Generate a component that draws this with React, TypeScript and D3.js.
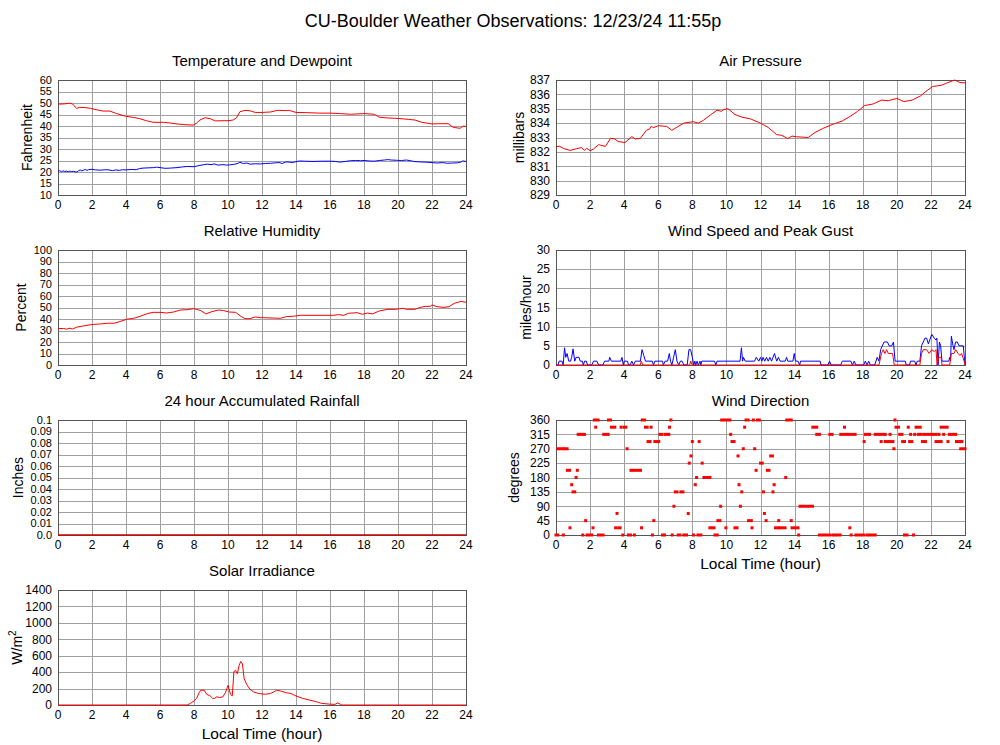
import React from "react";
import * as d3 from "d3";

const hourTicks = [0, 2, 4, 6, 8, 10, 12, 14, 16, 18, 20, 22, 24];

const tempTicks = [10, 15, 20, 25, 30, 35, 40, 45, 50, 55, 60];
const pressTicks = [829, 830, 831, 832, 833, 834, 835, 836, 837];
const rhTicks = [0, 10, 20, 30, 40, 50, 60, 70, 80, 90, 100];
const windTicks = [0, 5, 10, 15, 20, 25, 30];
const rainTicks = [0, 0.01, 0.02, 0.03, 0.04, 0.05, 0.06, 0.07, 0.08, 0.09, 0.1];
const rainTickLabels = ["0.0", "0.01", "0.02", "0.03", "0.04", "0.05", "0.06", "0.07", "0.08", "0.09", "0.1"];
const dirTicks = [0, 45, 90, 135, 180, 225, 270, 315, 360];
const solarTicks = [0, 200, 400, 600, 800, 1000, 1200, 1400];

type P = [number, number];

const temperature: P[] = [
  [0, 49.5], [0.35, 49.6], [0.7, 49.9], [0.85, 49.6], [1.1, 47.6], [1.25, 48.1], [1.6, 48.0], [1.9, 47.7],
  [2.3, 47.0], [2.65, 46.5], [3.05, 46.5], [3.45, 45.4], [3.95, 44.3], [4.45, 43.7], [4.8, 43.2],
  [5.2, 42.3], [5.6, 41.6], [6.2, 41.6], [6.6, 41.3], [7.0, 40.9], [7.4, 40.6], [7.95, 40.4],
  [8.15, 41.2], [8.35, 42.6], [8.65, 43.6], [8.95, 43.2], [9.25, 42.2], [9.6, 42.3], [10.0, 42.3],
  [10.3, 42.6], [10.5, 43.6], [10.7, 46.2], [11.0, 46.8], [11.3, 46.6], [11.6, 45.9], [12.0, 45.9],
  [12.5, 46.1], [12.9, 46.8], [13.45, 46.7], [13.6, 46.8], [14.0, 45.9], [14.6, 45.8], [15.4, 45.6],
  [16.0, 45.6], [16.6, 45.4], [17.2, 45.1], [18.0, 45.4], [18.6, 45.1], [18.9, 43.8], [19.4, 43.5],
  [20.0, 43.3], [20.6, 42.9], [21.0, 42.6], [21.4, 41.6], [22.0, 40.9], [22.4, 41.0], [22.95, 41.0],
  [23.25, 39.4], [23.65, 39.0], [23.85, 40.0], [24, 39.8],
];

const dewpoint: P[] = [
  [0, 20.3], [0.1, 20.6], [0.2, 20.1], [0.3, 20.5], [0.4, 20.2], [0.5, 20.4], [0.6, 20.1], [0.7, 20.4],
  [0.8, 20.2], [0.9, 20.3], [1.0, 20.1], [1.1, 20.0], [1.2, 20.5], [1.3, 20.9], [1.4, 20.5], [1.5, 20.8],
  [1.6, 21.1], [1.7, 20.7], [1.8, 21.0], [2.0, 21.2], [2.2, 20.9], [2.5, 20.8], [2.8, 21.0], [3.0, 20.9],
  [3.2, 20.6], [3.4, 20.9], [3.6, 20.7], [3.8, 21.0], [4.0, 20.9], [4.3, 21.1], [4.6, 21.0], [4.8, 21.5],
  [5.0, 21.7], [5.3, 21.8], [5.6, 21.9], [5.8, 22.1], [6.0, 21.9], [6.3, 21.6], [6.6, 21.7], [7.0, 21.9],
  [7.3, 22.2], [7.6, 22.4], [8.0, 22.3], [8.3, 22.8], [8.6, 23.2], [8.8, 23.4], [9.0, 23.2], [9.2, 23.5],
  [9.4, 23.0], [9.7, 23.2], [9.9, 23.0], [10.1, 23.1], [10.4, 23.4], [10.6, 23.8], [10.7, 24.2], [10.9, 23.7],
  [11.1, 23.9], [11.3, 23.4], [11.6, 23.6], [11.9, 23.5], [12.2, 23.7], [12.5, 23.8], [12.8, 24.0],
  [13.0, 24.1], [13.2, 23.7], [13.4, 24.4], [13.6, 24.3], [13.8, 24.1], [14.0, 24.5], [14.2, 24.8],
  [14.5, 24.7], [15.0, 24.6], [15.5, 24.7], [16.0, 24.7], [16.3, 24.6], [16.6, 24.3], [16.9, 24.6],
  [17.2, 24.9], [17.5, 25.0], [17.8, 24.9], [18.0, 25.0], [18.3, 24.8], [18.6, 24.7], [18.9, 25.0],
  [19.2, 25.2], [19.4, 25.4], [19.6, 25.2], [19.9, 25.1], [20.2, 25.0], [20.5, 25.2], [20.8, 24.8],
  [21.0, 24.5], [21.3, 24.4], [21.6, 24.3], [22.0, 24.1], [22.3, 23.9], [22.6, 24.1], [22.9, 23.8],
  [23.2, 23.9], [23.5, 24.0], [23.7, 24.3], [23.8, 24.8], [24, 24.6],
];

const pressure: P[] = [
  [0, 832.36], [0.2, 832.4], [0.43, 832.24], [0.82, 832.1], [1.2, 832.22], [1.5, 832.3], [1.66, 832.1],
  [1.8, 832.25], [2.0, 832.08], [2.2, 832.2], [2.5, 832.5], [2.9, 832.38], [3.2, 832.94], [3.45, 832.9],
  [3.65, 832.72], [4.05, 832.65], [4.45, 833.06], [4.65, 832.9], [4.95, 832.94], [5.3, 833.5],
  [5.5, 833.6], [5.6, 833.8], [5.7, 833.68], [6.0, 833.82], [6.5, 833.77], [6.8, 833.5], [7.1, 833.72],
  [7.5, 834.0], [8.05, 834.1], [8.35, 834.0], [8.65, 834.2], [9.05, 834.56], [9.45, 834.9], [9.7, 834.82],
  [9.85, 834.95], [10.1, 835.0], [10.5, 834.6], [10.9, 834.42], [11.4, 834.3], [11.9, 834.05],
  [12.0, 834.0], [12.45, 833.7], [12.95, 833.2], [13.25, 833.15], [13.6, 832.92], [13.85, 833.1],
  [14.1, 833.05], [14.8, 833.0], [15.2, 833.35], [15.7, 833.65], [16.2, 833.9], [16.8, 834.15],
  [17.3, 834.5], [17.7, 834.82], [18.1, 835.22], [18.6, 835.33], [19.1, 835.6], [19.5, 835.56],
  [20.0, 835.72], [20.4, 835.5], [20.9, 835.6], [21.4, 835.9], [21.7, 836.2], [22.1, 836.55],
  [22.6, 836.63], [22.9, 836.77], [23.4, 837.0], [23.7, 836.82], [24, 836.8],
];

const humidity: P[] = [
  [0, 31.7], [0.33, 31.7], [0.5, 31.2], [0.7, 32.0], [0.85, 31.3], [1.1, 32.9], [1.5, 34.0], [2.0, 35.2],
  [2.5, 35.7], [2.9, 36.3], [3.3, 36.3], [3.65, 37.8], [4.05, 39.8], [4.45, 40.6], [4.85, 42.4],
  [5.25, 44.7], [5.6, 45.8], [6.0, 45.8], [6.4, 45.2], [6.8, 46.1], [7.2, 47.8], [7.6, 48.1], [8.0, 49.0],
  [8.4, 47.3], [8.7, 44.4], [9.05, 46.4], [9.45, 47.8], [9.75, 47.3], [10.05, 46.1], [10.45, 45.8],
  [10.75, 42.4], [11.0, 40.3], [11.3, 40.3], [11.6, 41.8], [11.9, 41.2], [13.1, 40.6], [13.45, 42.1],
  [13.85, 42.4], [14.25, 43.2], [16.2, 43.2], [16.5, 43.8], [16.8, 43.2], [17.1, 45.0], [17.6, 45.5],
  [17.9, 44.1], [18.2, 45.2], [18.5, 44.4], [18.9, 47.0], [19.4, 48.4], [19.85, 48.4], [20.3, 49.3],
  [20.5, 48.4], [21.0, 48.4], [21.3, 50.1], [21.6, 51.0], [21.9, 51.0], [22.0, 52.2], [22.3, 50.7],
  [22.7, 50.1], [23.0, 50.7], [23.3, 53.6], [23.7, 55.3], [24, 54.5],
];

const windGust: P[] = [
  [0, 0], [0.12, 0], [0.18, 1], [0.35, 1], [0.42, 0], [0.5, 4.5], [0.57, 2], [0.65, 3], [0.75, 1],
  [0.85, 1], [0.92, 2], [1.0, 4.2], [1.1, 1], [1.18, 2], [1.35, 2], [1.42, 1], [1.55, 1], [1.6, 0],
  [1.68, 1], [1.78, 1], [1.85, 0], [2.1, 0], [2.2, 1], [2.4, 1], [2.5, 0], [2.75, 0], [2.85, 1],
  [3.1, 1], [3.15, 2], [3.25, 1], [3.8, 1], [3.87, 2], [3.95, 0], [4.0, 1], [4.2, 1], [4.25, 0],
  [4.35, 0], [4.45, 1], [4.55, 0], [4.65, 1], [4.95, 1], [5.05, 4], [5.15, 2.5], [5.25, 1], [5.65, 1],
  [5.72, 0], [5.8, 1], [6.25, 1], [6.3, 0], [6.4, 1], [6.55, 1], [6.65, 3], [6.72, 1], [6.8, 0],
  [6.9, 2], [7.0, 4], [7.1, 1], [7.2, 0], [7.3, 1], [7.4, 1], [7.5, 0], [7.7, 0], [7.8, 4], [7.9, 4],
  [8.0, 2], [8.08, 0], [8.15, 1], [8.2, 0], [8.28, 1], [8.35, 0], [8.45, 1], [8.5, 0], [8.55, 1],
  [9.3, 1], [9.38, 0], [9.45, 1], [10.8, 1], [10.88, 4.5], [10.95, 1], [11.0, 2], [11.1, 1], [11.65, 1],
  [11.75, 2], [11.9, 1], [12.0, 2], [12.08, 1], [12.15, 2], [12.25, 1], [12.35, 2], [12.45, 1],
  [12.55, 2], [12.65, 1], [12.82, 3], [12.95, 1], [13.05, 2], [13.15, 1], [13.45, 1], [13.53, 2],
  [13.6, 1], [13.9, 1], [13.98, 3], [14.05, 1], [14.2, 1], [14.3, 0], [14.35, 1], [15.5, 1], [15.55, 0],
  [15.95, 0], [16.05, 1], [16.15, 0], [16.7, 0], [16.8, 1], [17.3, 1], [17.4, 0], [17.5, 1], [17.6, 0],
  [18.05, 0], [18.15, 1], [18.25, 0], [18.35, 1], [18.45, 0], [18.7, 0], [18.85, 2], [18.95, 1],
  [19.05, 4], [19.25, 6], [19.45, 6], [19.55, 5], [19.7, 5], [19.8, 6], [19.9, 1], [20.5, 1], [20.55, 0],
  [20.75, 0], [20.8, 1], [21.05, 1], [21.12, 0], [21.2, 1], [21.35, 1], [21.45, 5], [21.65, 7],
  [21.75, 7], [21.85, 5.5], [22.05, 8], [22.2, 7], [22.3, 6.5], [22.35, 7], [22.42, 0], [22.5, 6],
  [22.57, 5], [22.65, 1], [23.05, 1], [23.1, 2], [23.15, 1], [23.2, 7.5], [23.3, 5], [23.35, 4],
  [23.45, 6], [23.55, 6], [23.65, 5], [23.9, 5], [24, 0],
];

const windSpeed: P[] = [
  [0, 0], [4.95, 0], [5.0, 1], [5.1, 0], [7.85, 0], [7.9, 1], [8.0, 0], [18.95, 0], [19.1, 3], [19.2, 4],
  [19.3, 3], [19.4, 4], [19.5, 3], [19.75, 3], [19.85, 0], [21.35, 0], [21.45, 3], [21.55, 4], [21.75, 4],
  [21.9, 3], [22.05, 4], [22.2, 3.5], [22.3, 4], [22.36, 0], [22.45, 2], [22.6, 2], [22.65, 0], [23.1, 0],
  [23.2, 3], [23.35, 3], [23.45, 4], [23.6, 3], [23.7, 2.5], [23.8, 3], [23.95, 1], [24, 0],
];

const rainfall: P[] = [[0, 0], [24, 0]];

// wind direction observations: [first hour, last hour, degrees]
const windDir: [number, number, number][] = [
  [0, 0.1, 0], [0.1, 0.4, 270], [0.43, 0.43, 0], [0.5, 0.65, 270], [0.67, 0.8, 202.5], [0.82, 0.82, 22.5],
  [0.92, 0.92, 157.5], [1.0, 1.1, 135], [1.18, 1.18, 180], [1.25, 1.25, 202.5], [1.3, 1.52, 315],
  [1.57, 1.57, 0], [1.67, 1.67, 315], [1.74, 1.74, 45], [1.82, 2.1, 0], [2.17, 2.17, 22.5],
  [2.25, 2.47, 360], [2.33, 2.33, 337.5], [2.49, 2.76, 0], [2.8, 3.06, 315], [3.08, 3.2, 360],
  [3.25, 3.45, 337.5], [3.5, 3.5, 22.5], [3.58, 3.58, 67.5], [3.68, 3.76, 22.5], [3.82, 3.82, 337.5],
  [3.92, 3.92, 0], [4.0, 4.1, 337.5], [4.17, 4.17, 270], [4.25, 4.37, 0], [4.4, 4.96, 202.5],
  [4.6, 4.6, 0], [5.02, 5.02, 22.5], [5.06, 5.2, 360], [5.25, 5.35, 337.5], [5.4, 5.52, 292.5],
  [5.58, 5.58, 337.5], [5.66, 5.66, 0], [5.74, 5.74, 45], [5.8, 6.03, 292.5], [6.1, 6.2, 315],
  [6.25, 6.37, 0], [6.4, 6.62, 315], [6.66, 6.66, 337.5], [6.74, 6.74, 360], [6.82, 6.82, 0],
  [6.92, 6.92, 90], [7.0, 7.1, 135], [7.17, 7.27, 0], [7.33, 7.45, 135], [7.5, 7.66, 0],
  [7.76, 7.76, 67.5], [7.82, 7.82, 225], [7.92, 7.92, 247.5], [8.0, 8.0, 292.5], [8.07, 8.07, 0],
  [8.17, 8.17, 157.5], [8.25, 8.25, 180], [8.33, 8.5, 0], [8.4, 8.4, 292.5], [8.58, 8.58, 225],
  [8.68, 9.03, 180], [9.03, 9.27, 22.5], [9.33, 9.46, 0], [9.5, 9.62, 45], [9.66, 9.66, 90],
  [9.72, 10.2, 360], [9.97, 9.97, 22.5], [10.25, 10.25, 315], [10.33, 10.45, 292.5], [10.5, 10.62, 22.5],
  [10.68, 10.68, 247.5], [10.74, 10.74, 157.5], [10.82, 10.82, 90], [10.9, 10.9, 135], [10.99, 10.99, 270],
  [11.07, 11.07, 337.5], [11.15, 11.27, 360], [11.3, 11.46, 45], [11.5, 11.5, 22.5], [11.58, 11.58, 360],
  [11.66, 11.66, 270], [11.74, 11.74, 202.5], [11.82, 11.93, 360], [12.0, 12.1, 225], [12.17, 12.17, 135],
  [12.23, 12.23, 67.5], [12.33, 12.33, 45], [12.4, 12.5, 202.5], [12.6, 12.7, 247.5], [12.73, 12.73, 135],
  [12.8, 12.8, 157.5], [12.88, 13.05, 22.5], [13.07, 13.07, 45], [13.15, 13.44, 22.5], [13.48, 13.48, 180],
  [13.54, 13.8, 360], [13.8, 13.8, 45], [13.85, 14.2, 22.5], [14.24, 14.24, 0], [14.32, 15.05, 90],
  [15.07, 15.3, 337.5], [15.3, 15.46, 315], [15.46, 16.05, 0], [16.07, 16.2, 315], [16.24, 16.67, 0],
  [16.71, 16.87, 315], [16.93, 16.93, 337.5], [17.03, 17.22, 315], [17.24, 17.24, 22.5], [17.32, 17.32, 0],
  [17.4, 17.55, 315], [17.6, 18.05, 0], [18.08, 18.08, 292.5], [18.16, 18.4, 315], [18.25, 18.73, 0],
  [18.73, 19.32, 315], [19.08, 19.08, 292.5], [19.32, 19.52, 292.5], [19.6, 19.6, 315], [19.65, 19.77, 292.5],
  [19.83, 19.83, 270], [19.89, 19.89, 360], [19.95, 20.1, 337.5], [20.17, 20.3, 315], [20.34, 20.45, 292.5],
  [20.45, 20.6, 0], [20.67, 20.67, 337.5], [20.75, 20.88, 292.5], [20.81, 20.81, 315], [20.98, 20.98, 0],
  [21.05, 21.05, 315], [21.13, 21.37, 337.5], [21.26, 21.43, 315], [21.5, 21.68, 292.5], [21.6, 22.3, 315],
  [22.3, 22.6, 292.5], [22.47, 22.47, 315], [22.6, 22.95, 337.5], [22.75, 22.75, 315], [23.0, 23.0, 292.5],
  [23.08, 23.45, 315], [23.5, 23.75, 292.5], [23.82, 23.82, 292.5], [23.75, 24, 270],
];

const solar: P[] = [
  [0, 0], [7.6, 0], [7.8, 20], [8.0, 50], [8.15, 80], [8.3, 150], [8.4, 180], [8.6, 180], [8.75, 130],
  [8.95, 110], [9.1, 80], [9.2, 80], [9.35, 100], [9.5, 90], [9.7, 100], [9.85, 150], [10.0, 240],
  [10.15, 130], [10.25, 110], [10.35, 410], [10.45, 420], [10.55, 380], [10.65, 480], [10.75, 530],
  [10.85, 500], [10.95, 320], [11.1, 250], [11.3, 190], [11.5, 160], [11.8, 140], [12.2, 130],
  [12.5, 140], [12.7, 160], [12.85, 180], [13.1, 170], [13.4, 150], [13.7, 140], [14.0, 110],
  [14.4, 80], [14.8, 60], [15.2, 40], [15.5, 20], [16.0, 10], [16.3, 8], [16.45, 25], [16.6, 10],
  [16.7, 0], [24, 0],
];

const FONT = "'Liberation Sans', Arial, Helvetica, sans-serif";
const GRID = "#a0a0a0";
const FRAME = "#555";

type PanelProps = {
  left: number;
  top: number;
  width: number;
  height: number;
  yDomain: [number, number];
  yTicks: number[];
  yLabels?: string[];
  yFont?: number;
  title: string;
  yTitle: React.ReactNode;
  yTitleX: number;
  xTitle?: boolean;
  draw: (x: d3.ScaleLinear<number, number>, y: d3.ScaleLinear<number, number>) => React.ReactNode;
};

function Panel(p: PanelProps) {
  const x = d3.scaleLinear().domain([0, 24]).range([p.left, p.left + p.width]);
  const y = d3.scaleLinear().domain(p.yDomain).range([p.top + p.height, p.top]);
  const bottom = p.top + p.height;
  const cy = p.top + p.height / 2;
  const cx = p.left + p.width / 2;
  const yFont = p.yFont ?? 12;
  const clipId = "clip" + p.left + "_" + p.top;
  return (
    <g>
      <text x={cx} y={p.top - 14} textAnchor="middle" fontSize={15} fontFamily={FONT} fill="#000">
        {p.title}
      </text>
      <clipPath id={clipId}>
        <rect x={p.left - 2} y={p.top - 4} width={p.width + 4} height={p.height + 8} />
      </clipPath>
      {hourTicks.map((h) => (
        <line key={"v" + h} x1={Math.round(x(h)) + 0.5} x2={Math.round(x(h)) + 0.5} y1={p.top} y2={bottom} stroke={GRID} strokeWidth={1} />
      ))}
      {p.yTicks.map((t) => (
        <line key={"h" + t} x1={p.left} x2={p.left + p.width} y1={Math.round(y(t)) + 0.5} y2={Math.round(y(t)) + 0.5} stroke={GRID} strokeWidth={1} />
      ))}
      <rect x={p.left + 0.5} y={p.top + 0.5} width={p.width} height={p.height} fill="none" stroke={FRAME} strokeWidth={1} />
      <g clipPath={`url(#${clipId})`}>{p.draw(x, y)}</g>
      {p.yTicks.map((t, i) => (
        <text key={"yl" + t} x={p.left - 6} y={y(t) + yFont * 0.36} textAnchor="end" fontSize={yFont} fontFamily={FONT} fill="#000">
          {p.yLabels ? p.yLabels[i] : String(t)}
        </text>
      ))}
      {hourTicks.map((h) => (
        <text key={"xl" + h} x={x(h)} y={bottom + 14} textAnchor="middle" fontSize={12} fontFamily={FONT} fill="#000">
          {h}
        </text>
      ))}
      <text transform={`translate(${p.yTitleX},${cy}) rotate(-90)`} textAnchor="middle" fontSize={14} fontFamily={FONT} fill="#000">
        {p.yTitle}
      </text>
      {p.xTitle && (
        <text x={cx} y={bottom + 34} textAnchor="middle" fontSize={15.5} fontFamily={FONT} fill="#000">
          Local Time (hour)
        </text>
      )}
    </g>
  );
}

function linePath(data: P[], x: d3.ScaleLinear<number, number>, y: d3.ScaleLinear<number, number>) {
  return d3.line<P>().x((d) => x(d[0])).y((d) => y(d[1]))(data) || "";
}

export default function App() {
  const LX = 58, RX = 556, LW = 408, RW = 409, H = 115;
  const rows = [80, 250, 420, 590];
  return (
    <svg width={1000} height={745} style={{ position: "absolute", left: 0, top: 0, background: "#fff" }}>
      <rect width={1000} height={745} fill="#fff" />
      <text x={513} y={27} textAnchor="middle" fontSize={18} fontFamily={FONT} fill="#000">
        CU-Boulder Weather Observations: 12/23/24 11:55p
      </text>

      <Panel left={LX} top={rows[0]} width={LW} height={H} yDomain={[10, 60]} yTicks={tempTicks} yFont={11}
        title="Temperature and Dewpoint" yTitle="Fahrenheit" yTitleX={31.5}
        draw={(x, y) => (
          <g fill="none" strokeWidth={1}>
            <path d={linePath(temperature, x, y)} stroke="#ff0000" />
            <path d={linePath(dewpoint, x, y)} stroke="#0000ff" />
          </g>
        )} />

      <Panel left={RX} top={rows[0]} width={RW} height={H} yDomain={[829, 837]} yTicks={pressTicks}
        title="Air Pressure" yTitle="millibars" yTitleX={524}
        draw={(x, y) => <path d={linePath(pressure, x, y)} stroke="#ff0000" fill="none" strokeWidth={1} />} />

      <Panel left={LX} top={rows[1]} width={LW} height={H} yDomain={[0, 100]} yTicks={rhTicks} yFont={11}
        title="Relative Humidity" yTitle="Percent" yTitleX={26}
        draw={(x, y) => <path d={linePath(humidity, x, y)} stroke="#ff0000" fill="none" strokeWidth={1} />} />

      <Panel left={RX} top={rows[1]} width={RW} height={H} yDomain={[0, 30]} yTicks={windTicks}
        title="Wind Speed and Peak Gust" yTitle="miles/hour" yTitleX={531}
        draw={(x, y) => (
          <g fill="none" strokeWidth={1}>
            <path d={linePath(windGust, x, y)} stroke="#0000ff" />
            <path d={linePath(windSpeed, x, y)} stroke="#ff0000" />
          </g>
        )} />

      <Panel left={LX} top={rows[2]} width={LW} height={H} yDomain={[0, 0.1]} yTicks={rainTicks} yLabels={rainTickLabels} yFont={11}
        title="24 hour Accumulated Rainfall" yTitle="Inches" yTitleX={22.5}
        draw={(x, y) => <path d={linePath(rainfall, x, y)} stroke="#cc0000" fill="none" strokeWidth={1.5} />} />

      <Panel left={RX} top={rows[2]} width={RW} height={H} yDomain={[0, 360]} yTicks={dirTicks}
        title="Wind Direction" yTitle="degrees" yTitleX={519} xTitle
        draw={(x, y) => (
          <g fill="#ff0000">
            {windDir.map((d, i) => (
              <rect key={i} x={x(d[0]) - 1.5} y={y(d[2]) - 1.5} width={x(d[1]) - x(d[0]) + 3} height={3} />
            ))}
          </g>
        )} />

      <Panel left={LX} top={rows[3]} width={LW} height={H} yDomain={[0, 1400]} yTicks={solarTicks}
        title="Solar Irradiance" yTitleX={21.5} xTitle
        yTitle={<>W/m<tspan dy={-6} fontSize={10}>2</tspan></>}
        draw={(x, y) => <path d={linePath(solar, x, y)} stroke="#ff0000" fill="none" strokeWidth={1} />} />
    </svg>
  );
}
